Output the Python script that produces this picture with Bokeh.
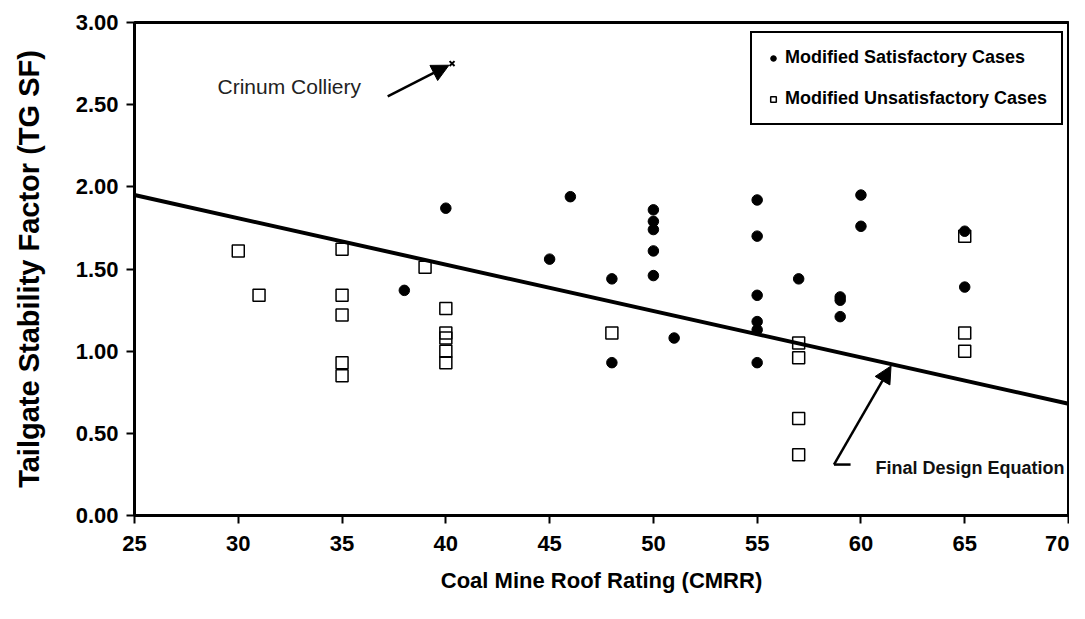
from bokeh.plotting import figure
from bokeh.models import (Range1d, Legend, LegendItem, Arrow, NormalHead, Label,
                          FixedTicker, PrintfTickFormatter)
from bokeh.embed import file_html
from bokeh.resources import INLINE

# ---- data ----
sat_cmrr = [38, 40, 45, 46, 48, 48, 50, 50, 50, 50, 50, 51,
            55, 55, 55, 55, 55, 55, 57, 59, 59, 59, 60, 60, 65, 65]
sat_sf = [1.37, 1.87, 1.56, 1.94, 1.44, 0.93, 1.86, 1.79, 1.74, 1.61, 1.46, 1.08,
          1.92, 1.70, 1.34, 1.18, 1.13, 0.93, 1.44, 1.33, 1.31, 1.21, 1.95, 1.76, 1.73, 1.39]

unsat_cmrr = [30, 31, 35, 35, 35, 35, 35, 39, 40, 40, 40, 40, 40, 48,
              57, 57, 57, 57, 65, 65, 65]
unsat_sf = [1.61, 1.34, 1.62, 1.34, 1.22, 0.93, 0.85, 1.51, 1.26, 1.11, 1.08, 1.00, 0.93, 1.11,
            1.05, 0.96, 0.59, 0.37, 1.70, 1.11, 1.00]

crinum_cmrr = [40.3]
crinum_sf = [2.75]

design_cmrr = [25, 70]
design_sf = [1.95, 0.68]

x_ticks = [25, 30, 35, 40, 45, 50, 55, 60, 65, 70]
y_ticks = [0.0, 0.5, 1.0, 1.5, 2.0, 2.5, 3.0]

# annotation anchors (data units)
crinum_arrow = dict(x_start=37.2, y_start=2.55, x_end=40.15, y_end=2.74)
crinum_label = dict(x=29.0, y=2.61)
design_arrow = dict(x_start=58.7, y_start=0.31, x_end=61.45, y_end=0.91)
design_label = dict(x=60.7, y=0.29)

FONT = "Liberation Sans"

p = figure(frame_width=934, frame_height=493,
           min_border_left=134, min_border_right=1, min_border_top=22, min_border_bottom=88,
           x_range=Range1d(25, 70), y_range=Range1d(0, 3),
           output_backend="svg", toolbar_location=None)
p.grid.visible = False
p.outline_line_color = "black"
p.outline_line_width = 3
p.background_fill_color = "white"
p.border_fill_color = "white"

for ax in (p.xaxis[0], p.yaxis[0]):
    ax.axis_line_width = 3
    ax.axis_line_color = "black"
    ax.major_tick_line_width = 2
    ax.major_tick_out = 8
    ax.major_tick_in = 0
    ax.minor_tick_line_color = None
    ax.major_label_text_font = FONT
    ax.major_label_text_font_style = "bold"
    ax.major_label_text_font_size = "22px"
    ax.major_label_text_color = "black"
    ax.axis_label_text_font = FONT
    ax.axis_label_text_font_style = "bold"
    ax.axis_label_text_color = "black"

p.xaxis.ticker = FixedTicker(ticks=x_ticks)
p.yaxis.ticker = FixedTicker(ticks=y_ticks)
p.yaxis.formatter = PrintfTickFormatter(format="%.2f")
p.xaxis.formatter = PrintfTickFormatter(format="%d")
p.xaxis.major_label_standoff = 12
p.yaxis.major_label_standoff = 8
p.xaxis.axis_label = "Coal Mine Roof Rating (CMRR)"
p.yaxis.axis_label = "Tailgate Stability Factor (TG SF)"
p.xaxis.axis_label_text_font_size = "22px"
p.yaxis.axis_label_text_font_size = "29px"
p.xaxis.axis_label_standoff = 14
p.yaxis.axis_label_standoff = 28

p.line(design_cmrr, design_sf, line_color="black", line_width=4)

r_unsat = p.scatter(unsat_cmrr, unsat_sf, marker="square", size=12,
                    line_color="black", line_width=1.5, fill_color=None)
r_sat = p.scatter(sat_cmrr, sat_sf, marker="circle", size=10.5,
                  line_color="black", fill_color="black")
p.scatter(crinum_cmrr, crinum_sf, marker="x", size=7, line_color="black", line_width=2)

p.add_layout(Arrow(end=NormalHead(size=17, fill_color="black", line_color="black"),
                   line_width=2.5, line_color="black", **crinum_arrow))
p.add_layout(Arrow(end=NormalHead(size=17, fill_color="black", line_color="black"),
                   line_width=2.5, line_color="black", **design_arrow))
p.segment(x0=[design_arrow["x_start"]], y0=[design_arrow["y_start"]],
          x1=[design_arrow["x_start"] + 0.8], y1=[design_arrow["y_start"]],
          line_color="black", line_width=2.5)

p.add_layout(Label(text="Crinum Colliery", text_font=FONT, text_font_size="21px",
                   text_color="#222222", text_baseline="middle", **crinum_label))
p.add_layout(Label(text="Final Design Equation", text_font=FONT, text_font_size="18px",
                   text_font_style="bold", text_color="#111111", text_baseline="middle",
                   **design_label))

legend = Legend(items=[LegendItem(label="Modified Satisfactory Cases", renderers=[r_sat]),
                       LegendItem(label="Modified Unsatisfactory Cases", renderers=[r_unsat])],
                location=(616, 390), margin=0, padding=14, spacing=20,
                glyph_width=14, glyph_height=20, label_height=20, label_standoff=5,
                border_line_color="black", border_line_width=2, border_line_alpha=1.0,
                label_text_font=FONT, label_text_font_size="18px",
                label_text_font_style="bold", label_text_color="black",
                background_fill_alpha=1.0)
p.add_layout(legend)

open("out.html", "w").write(file_html(p, INLINE))
